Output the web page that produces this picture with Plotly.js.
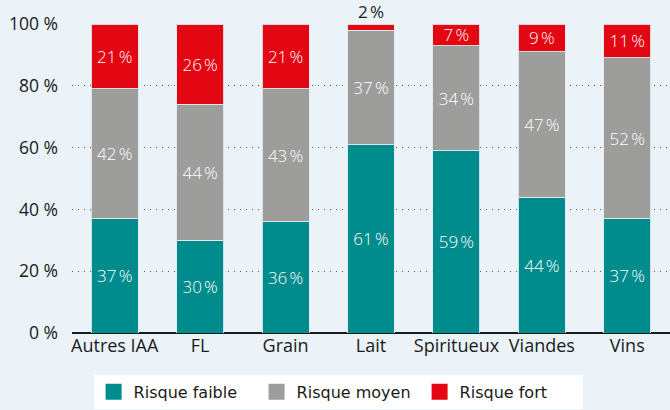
<!DOCTYPE html>
<html><head><meta charset="utf-8">
<script src="https://cdn.plot.ly/plotly-3.0.1.min.js"></script>
<style>html,body{margin:0;padding:0;background:#ebf3f9;}#c{width:670px;height:410px;}</style>
</head><body><div id="c"></div>
<script>
const categories = ['Autres IAA','FL','Grain','Lait','Spiritueux','Viandes','Vins'];
const faible = [37,30,36,61,59,44,37];
const moyen  = [42,44,43,37,34,47,52];
const fort   = [21,26,21,2,7,9,11];
const yTicks = [0,20,40,60,80,100];
const yTickLabels = yTicks.map(v => v + ' %');
const seriesNames = ['Risque faible','Risque moyen','Risque fort'];
const colors = ['#008b8c','#9d9d9c','#e30613'];

const fmt = v => v + '\u202f%';
const small = v => v < 5;
const mkBar = (vals, i) => ({
  type:'bar', x:categories, y:vals, name:seriesNames[i], showlegend:false,
  marker:{color:colors[i], line:{color:'rgba(225,235,240,0.9)', width:1}},
  text: vals.map(v => small(v) ? '' : fmt(v)),
  textposition: 'inside',
  insidetextanchor:'middle',
  textfont:{color:'#ffffff', size:17, family:'Open Sans, sans-serif', weight:300},
  constraintext:'none', cliponaxis:false, hoverinfo:'skip'
});
const legendTraces = seriesNames.map((n,i) => ({
  type:'scatter', mode:'markers', x:[null], y:[null], name:n, showlegend:true,
  marker:{symbol:'square', size:20, color:colors[i]}
}));
const data = [mkBar(faible,0), mkBar(moyen,1), mkBar(fort,2), ...legendTraces];

// labels for segments too thin to hold text: placed above the stack
const annotations = [];
categories.forEach((c, k) => {
  if (small(fort[k])) {
    annotations.push({x:c, y:faible[k]+moyen[k]+fort[k], xref:'x', yref:'y', text:fmt(fort[k]),
      showarrow:false, yanchor:'bottom', yshift:-1,
      font:{color:'#1a1a1a', size:17, family:'Open Sans, sans-serif'}});
  }
});

const layout = {
  width:670, height:410,
  margin:{l:72, r:0, t:24, b:77},
  paper_bgcolor:'#ebf3f9', plot_bgcolor:'#ebf3f9',
  barmode:'stack', bargap:0.45,
  font:{family:'Open Sans, sans-serif', color:'#1a1a1a', size:17},
  xaxis:{type:'category', showgrid:false, showline:false, zeroline:false, ticks:'',
         tickfont:{size:18, color:'#1a1a1a'}, fixedrange:true},
  yaxis:{range:[0,100], tickvals:yTicks, ticktext:yTickLabels, showgrid:true,
         gridcolor:'#555', griddash:'1px,5px', gridwidth:1, zeroline:true, zerolinecolor:'#1a1a1a',
         zerolinewidth:2, ticks:'', ticklen:0, ticklabelstandoff:13,
         tickfont:{size:17.5, color:'#1a1a1a'}, fixedrange:true},
  legend:{orientation:'h', xref:'paper', x:0.445, xanchor:'center',
          yref:'container', y:0.086, yanchor:'top', traceorder:'normal',
          bgcolor:'#ffffff', font:{family:'DejaVu Sans', stretch:'condensed', size:16, color:'#1a1a1a'},
          entrywidth:118, itemsizing:'trace'},
  annotations: annotations,
  showlegend:true
};
Plotly.newPlot('c', data, layout, {displayModeBar:false, staticPlot:true});
</script></body></html>
